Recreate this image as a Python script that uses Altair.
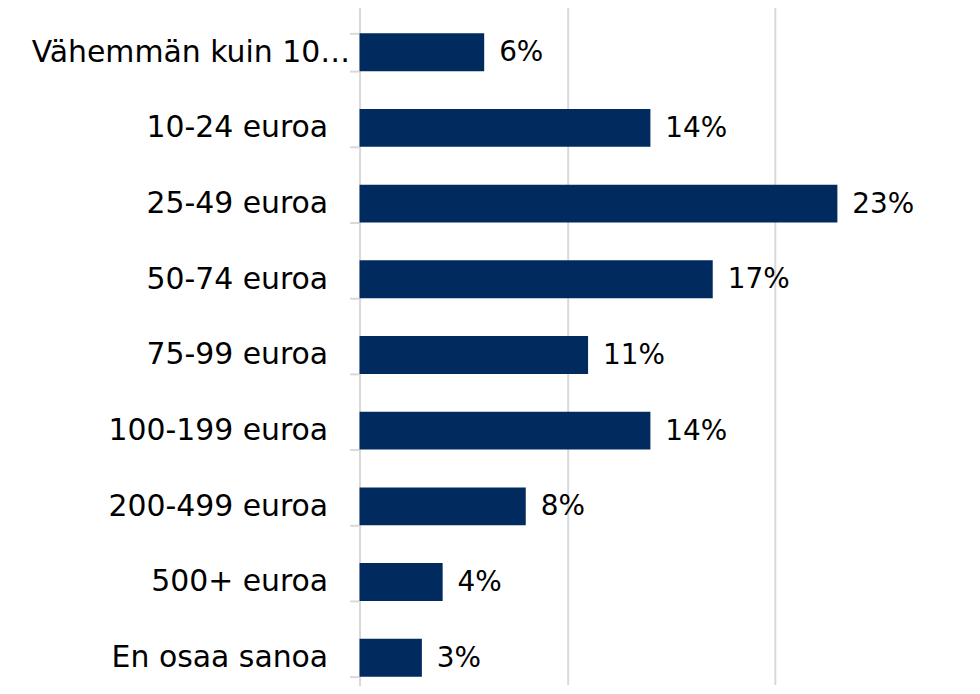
import altair as alt
import pandas as pd

categories = [
    "Vähemmän kuin 10 euroa",
    "10-24 euroa",
    "25-49 euroa",
    "50-74 euroa",
    "75-99 euroa",
    "100-199 euroa",
    "200-499 euroa",
    "500+ euroa",
    "En osaa sanoa",
]
values = [6, 14, 23, 17, 11, 14, 8, 4, 3]
value_labels = ["6%", "14%", "23%", "17%", "11%", "14%", "8%", "4%", "3%"]

df = pd.DataFrame({"cat": categories, "val": values, "lab": value_labels})

FONT = "DejaVu Sans"
BAR = "#012a5e"
FIRST = categories[0]

y_enc = alt.Y(
    "cat:N",
    sort=categories,
    title=None,
    scale=alt.Scale(paddingInner=0.5, paddingOuter=0.25, range=[0, 684]),
    axis=alt.Axis(
        tickBand="extent",
        domainColor="#d9d9d9",
        domainWidth=2,
        tickColor="#d9d9d9",
        tickWidth=2,
        tickSize=10,
        labelFont=FONT,
        labelFontSize=30,
        labelColor="#000000",
        labelPadding={"condition": {"test": f"datum.value == '{FIRST}'", "value": 0}, "value": 22},
        labelLimit=400,
        labelExpr=f"datum.value == '{FIRST}' ? 'Vähemmän kuin 10…' : datum.label",
        grid=False,
    ),
)

x_enc = alt.X(
    "val:Q",
    title=None,
    scale=alt.Scale(domain=[0, 29], nice=False),
    axis=alt.Axis(
        values=[0, 10, 20],
        grid=True,
        gridColor="#d9d9d9",
        gridWidth=2,
        labels=False,
        ticks=False,
        domain=False,
    ),
)

bars = alt.Chart(df).mark_bar(color=BAR).encode(x=x_enc, y=y_enc)

text = alt.Chart(df).mark_text(
    align="left", baseline="middle", dx=15, dy=1, font=FONT, fontSize=28, color="#000000"
).encode(x="val:Q", y=alt.Y("cat:N", sort=categories), text="lab:N")

chart = (
    alt.layer(bars, text)
    .properties(
        width=605,
        height=673,
        autosize=alt.AutoSizeParams(type="none"),
        padding={"left": 353, "top": 5, "right": 10, "bottom": 0},
    )
    .configure_view(stroke=None)
)

chart.save("out.html", embed_options={"renderer": "svg", "actions": False})
